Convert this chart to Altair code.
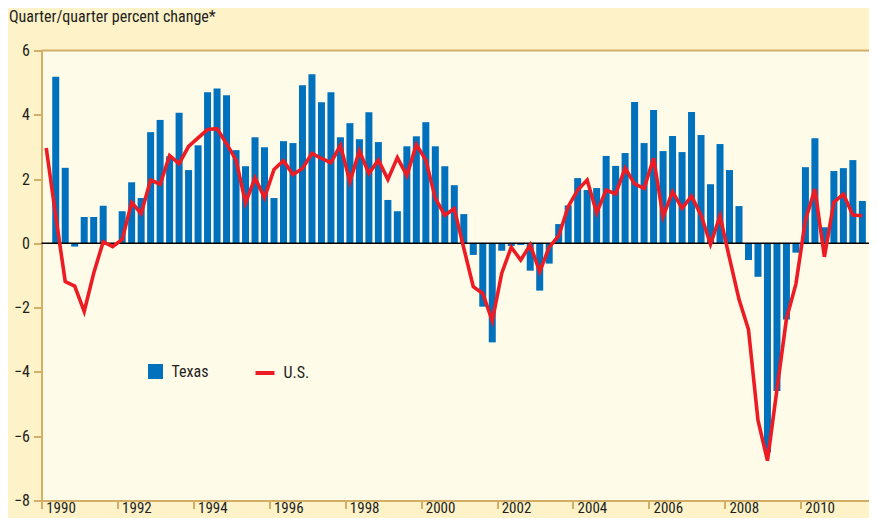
import altair as alt
import pandas as pd

# Quarterly values, 1990Q1 .. 2011Q3 (quarter/quarter percent change, annualized)
start_year = 1990
texas = [None, 5.18, 2.35, -0.10,
         0.82, 0.82, 1.17, 0.0,
         1.00, 1.90, 1.41, 3.46,
         3.84, 2.71, 4.06, 2.28,
         3.05, 4.70, 4.82, 4.61,
         2.90, 2.40, 3.30, 2.99,
         1.41, 3.18, 3.12, 4.92,
         5.26, 4.39, 4.70, 3.30,
         3.74, 3.24, 4.08, 3.15,
         1.35, 1.00, 3.02, 3.33,
         3.77, 3.02, 2.40, 1.81,
         0.91, -0.36, -1.97, -3.08,
         -0.23, -0.08, -0.05, -0.85,
         -1.47, -0.63, 0.60, 1.18,
         2.03, 1.66, 1.72, 2.72,
         2.41, 2.81, 4.40, 3.12,
         4.15, 2.87, 3.34, 2.84,
         4.09, 3.37, 1.84, 3.09,
         2.28, 1.16, -0.52, -1.04,
         -6.50, -4.59, -2.37, -0.29,
         2.37, 3.27, 0.50, 2.25,
         2.34, 2.59, 1.32]
us = [2.97, 0.85, -1.19, -1.33,
      -2.12, -0.93, 0.05, -0.10,
      0.12, 1.27, 0.93, 1.97,
      1.84, 2.73, 2.48, 3.02,
      3.28, 3.54, 3.57, 3.10,
      2.59, 1.26, 2.04, 1.42,
      2.30, 2.57, 2.14, 2.33,
      2.80, 2.64, 2.51, 3.05,
      1.92, 2.88, 2.17, 2.59,
      1.99, 2.67, 2.11, 3.07,
      2.59, 1.40, 0.88, 1.08,
      -0.15, -1.35, -1.56, -2.41,
      -0.93, -0.12, -0.52, -0.05,
      -0.88, -0.12, 0.23, 1.14,
      1.66, 1.97, 0.95, 1.66,
      1.54, 2.34, 1.85, 1.71,
      2.65, 0.83, 1.61, 1.09,
      1.47, 0.88, -0.03, 0.85,
      -0.46, -1.74, -2.68, -5.50,
      -6.76, -4.55, -2.35, -1.26,
      0.72, 1.69, -0.42, 1.28,
      1.53, 0.88, 0.86]
y_ticks = [-8, -6, -4, -2, 0, 2, 4, 6]
year_ticks = list(range(1990, 2012))

t = [start_year + i / 4 + 0.125 for i in range(len(us))]
bars_df = pd.DataFrame({"t": t, "v": texas, "s": "Texas"}).dropna()
line_df = pd.DataFrame({"t": t, "v": us, "s2": "U.S."})
zero_df = pd.DataFrame({"z": [0]})
top_df = pd.DataFrame({"z": [6]})

FONT = "Liberation Sans Narrow, Roboto Condensed, Arial Narrow, Liberation Sans, sans-serif"
TAN = "#D3AE66"
BLUE = "#0071BC"
RED = "#ED1C24"
TXT = "#231F20"

xscale = alt.Scale(domain=[1990, 2011.8], nice=False, zero=False, padding=0)
yscale = alt.Scale(domain=[-8, 6], nice=False, zero=False, padding=0)

xaxis = alt.Axis(values=year_ticks, format="d",
                 labelExpr="datum.value % 2 == 0 ? datum.label : ''",
                 labelOffset=19, labelFlush=False, labelOverlap=False,
                 tickSize=8, tickWidth=2, tickColor=TAN,
                 domainColor=TAN, domainWidth=2, grid=False, title=None,
                 labelFontSize=15, labelColor=TXT, labelPadding=-7.8, labelFont=FONT)
yaxis = alt.Axis(values=y_ticks, format="d",
                 tickSize=8, tickWidth=2, tickColor=TAN,
                 domainColor=TAN, domainWidth=2, grid=False,
                 labelFontSize=16, labelColor=TXT, labelPadding=4, labelFont=FONT,
                 title="Quarter/quarter percent change*", titleAngle=0,
                 titleAlign="left", titleBaseline="alphabetic",
                 titleX=-33, titleY=-29.5, titleFontSize=16,
                 titleFontWeight="normal", titleColor=TXT, titleFont=FONT)

bars = alt.Chart(bars_df).mark_bar(size=7).encode(
    x=alt.X("t:Q", scale=xscale, axis=xaxis),
    y=alt.Y("v:Q", scale=yscale, axis=yaxis),
    color=alt.Color("s:N", scale=alt.Scale(domain=["Texas"], range=[BLUE]),
                    legend=alt.Legend(title=None, orient="none", legendX=106, legendY=313,
                                      symbolType="square", symbolSize=225,
                                      symbolStrokeWidth=0, symbolOpacity=1,
                                      labelFontSize=16, labelOffset=8, padding=0,
                                      labelColor=TXT, labelFont=FONT)),
)

top_border = alt.Chart(top_df).mark_rule(color=TAN, strokeWidth=2).encode(
    y=alt.Y("z:Q", scale=yscale)
)

zero = alt.Chart(zero_df).mark_rule(color="black", strokeWidth=1.5).encode(
    y=alt.Y("z:Q", scale=yscale)
)

line = alt.Chart(line_df).mark_line(strokeWidth=3.6, strokeJoin="miter").encode(
    x=alt.X("t:Q", scale=xscale),
    y=alt.Y("v:Q", scale=yscale),
    stroke=alt.Stroke("s2:N", scale=alt.Scale(domain=["U.S."], range=[RED]),
                      legend=alt.Legend(title=None, orient="none", legendX=212, legendY=311,
                                        symbolType="stroke", symbolSize=361,
                                        symbolStrokeWidth=4,
                                        labelFontSize=16, labelOffset=7, padding=0,
                                        labelColor=TXT, labelFont=FONT)),
)

chart = alt.layer(bars, top_border, zero, line).properties(
    width=827.5, height=450,
    background="#FDF2C8",
    padding={"left": 33.5, "top": 42.5, "right": 0, "bottom": 17.5},
    autosize=alt.AutoSizeParams(type="none"),
).configure_view(fill="#FFFBE9", stroke="transparent", strokeWidth=0)

chart.save("out.html", embed_options={"renderer": "svg", "actions": False})
